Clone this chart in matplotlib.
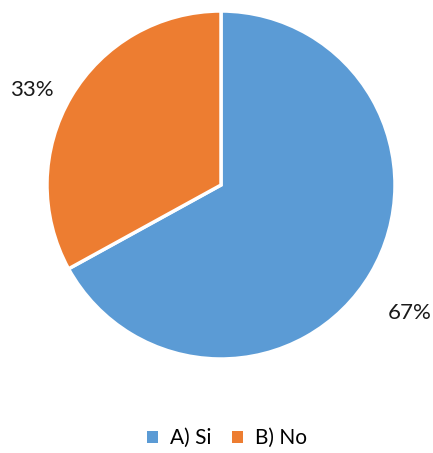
import matplotlib.pyplot as plt
from matplotlib.patches import Patch

plt.rcParams['font.family'] = ['Lato', 'DejaVu Sans']

# survey answers
labels = ["A) Si", "B) No"]
values = [67, 33]
colors = ["#5B9BD5", "#ED7D31"]

fig = plt.figure(figsize=(4.33, 4.53), dpi=100)
cx, cy, r = 221, 185, 174
ax = fig.add_axes([(cx - r) / 433, (453 - cy - r) / 453, 2 * r / 433, 2 * r / 453])

wedges, texts, autotexts = ax.pie(
    values, colors=colors, startangle=90, counterclock=False,
    autopct="%1.0f%%", pctdistance=1.26,
    wedgeprops=dict(edgecolor="white", linewidth=2.5),
    textprops=dict(fontsize=16, color="#1a1a1a"),
)
# nudge the percentage labels down a bit
for t in autotexts:
    x, y = t.get_position()
    t.set_position((x, y - 0.095))

ax.set_xlim(-1, 1)
ax.set_ylim(-1, 1)
ax.set_aspect("equal")
ax.axis("off")

handles = [Patch(facecolor=c, label=l) for c, l in zip(colors, labels)]
fig.legend(handles=handles, loc="center", bbox_to_anchor=(0.525, 1 - 438 / 453),
           ncol=2, frameon=False, fontsize=15, handlelength=0.5, handleheight=0.5,
           handletextpad=0.6, columnspacing=1.0)

fig.savefig("out.png", dpi=100)
